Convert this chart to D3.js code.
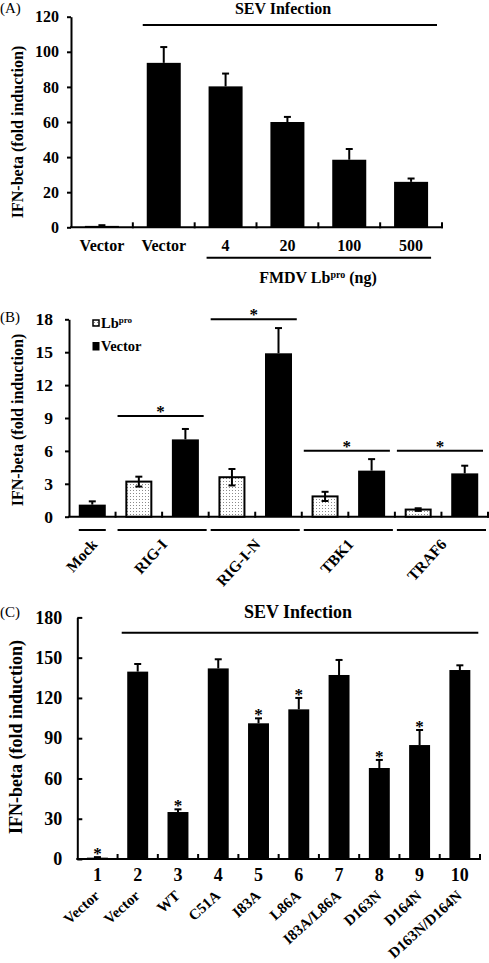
<!DOCTYPE html>
<html><head><meta charset="utf-8">
<script src="https://cdn.jsdelivr.net/npm/d3@7"></script>
<style>body{margin:0;background:#fff}svg{display:block}text{font-family:"Liberation Serif","Times New Roman",serif;fill:#000}</style>
</head><body>
<script>
// ---------- Data ----------
// Panel A
const catsA = ["Vector","Vector","4","20","100","500"];
const valsA = [0.8, 93.7, 80.3, 60.0, 38.5, 25.9];
const errA  = [0.4, 9.0, 7.3, 2.9, 6.1, 1.9];
const ticksA = [0,20,40,60,80,100,120];
// Panel B
const groupsB = ["Mock","RIG-I","RIG-I-N","TBK1","TRAF6"];
const groupOfB = [0,1,1,2,2,3,3,4,4];
const seriesB = ["Vector","Lb","Vector","Lb","Vector","Lb","Vector","Lb","Vector"];
const valsB = [1.1, 3.2, 7.05, 3.6, 14.9, 1.85, 4.2, 0.65, 3.95];
const errB  = [0.3, 0.45, 0.95, 0.75, 2.3, 0.42, 1.05, 0.12, 0.7];
const sigB = [1,2,3,4];
const ticksB = [0,3,6,9,12,15,18];
// Panel C
const numsC = ["1","2","3","4","5","6","7","8","9","10"];
const namesC = ["Vector","Vector","WT","C51A","I83A","L86A","I83A/L86A","D163N","D164N","D163N/D164N"];
const valsC = [1.0, 139.6, 35.0, 142.0, 101.1, 111.5, 137.1, 67.8, 84.9, 140.8];
const errC  = [0.4, 5.7, 2.0, 6.8, 3.7, 8.5, 11.2, 6.0, 11.2, 3.5];
const starC = [1,0,1,0,1,1,0,1,1,0];
const ticksC = [0,30,60,90,120,150,180];

const svg = d3.select("body").append("svg").attr("width",489).attr("height",963);
const defs = svg.append("defs");
const pat = defs.append("pattern").attr("id","dots").attr("width",3).attr("height",3).attr("patternUnits","userSpaceOnUse");
pat.append("rect").attr("width",3).attr("height",3).attr("fill","#fff");
pat.append("rect").attr("x",1).attr("y",1).attr("width",1).attr("height",1).attr("fill","#8a8a8a");

function line(g,x1,y1,x2,y2,w){g.append("line").attr("x1",x1).attr("y1",y1).attr("x2",x2).attr("y2",y2).attr("stroke","#000").attr("stroke-width",w||2);}

function panel(o){
  const g = svg.append("g");
  const x = d3.scaleBand().domain(d3.range(o.vals.length)).range([o.x0,o.x1]).paddingInner(o.pad).paddingOuter(o.pad/2);
  const y = d3.scaleLinear().domain([0,o.ymax]).range([o.yb,o.yt]);
  const step = x.step();
  const ax = d3.axisLeft(y).tickValues(o.ticks).tickSizeInner(o.tk).tickSizeOuter(0).tickPadding(o.tp);
  const ag = g.append("g").attr("transform",`translate(${o.x0},0)`).call(ax);
  ag.select(".domain").attr("stroke-width",2);
  ag.selectAll(".tick line").attr("stroke-width",2);
  ag.selectAll(".tick text").attr("font-size",o.fs).attr("font-weight","bold").attr("font-family","Liberation Serif");
  line(g,o.x0-1,y(0),o.x1+1,y(0),2);
  for(let i=1;i<=o.vals.length;i++){ const xx=o.x0+i*step; line(g,xx,y(0)-5,xx,y(0)+1,2); }
  o.vals.forEach((v,i)=>{
    const lb = o.series && o.series[i]==="Lb";
    const bx = x(i), bw = x.bandwidth(), cx = bx+bw/2;
    const top = y(v+o.err[i]);
    if(!lb){
      line(g,cx,y(v),cx,top,2);
      line(g,cx-3.5,top,cx+3.5,top,2);
      g.append("rect").attr("x",bx).attr("y",y(v)).attr("width",bw).attr("height",y(0)-y(v)).attr("fill","#000");
    } else {
      g.append("rect").attr("x",bx+1).attr("y",y(v)).attr("width",bw-2).attr("height",y(0)-y(v)).attr("fill","url(#dots)").attr("stroke","#000").attr("stroke-width",2);
      const bot = y(v-o.err[i]);
      line(g,cx,bot,cx,top,2);
      line(g,cx-3.5,top,cx+3.5,top,2);
      line(g,cx-3.5,bot,cx+3.5,bot,2);
    }
  });
  g.append("text").attr("transform",`translate(${o.tx},${o.ty}) rotate(-90)`).attr("text-anchor","middle").attr("dy","0.35em")
    .attr("font-size",o.tfs).attr("font-weight","bold").text("IFN-beta (fold induction)");
  return {g,x,y,step};
}
function star(g,x,y,fs){ g.append("text").attr("x",x).attr("y",y).attr("text-anchor","middle").attr("font-size",fs||17).attr("font-weight","bold").text("*"); }

// ---------- Panel A ----------
const A = panel({vals:valsA,err:errA,x0:71,x1:442,pad:0.45,ymax:120,yb:227.3,yt:16.7,ticks:ticksA,tk:4,tp:8,fs:16,tx:17,ty:132,tfs:16});
svg.append("text").attr("x",0).attr("y",13).attr("font-size",15).text("(A)");
catsA.forEach((c,i)=>{
  A.g.append("text").attr("x",A.x(i)+A.x.bandwidth()/2).attr("y",250.5).attr("text-anchor","middle").attr("font-size",16).attr("font-weight","bold").text(c);
});
line(A.g,A.x(1)-4,25,437,25,2);
A.g.append("text").attr("x",283).attr("y",13.5).attr("text-anchor","middle").attr("font-size",16).attr("font-weight","bold").text("SEV Infection");
line(A.g,A.x(2)-2,257.7,A.x(5)+A.x.bandwidth()+3,257.7,2);
{
  const t = A.g.append("text").attr("x",318).attr("y",283).attr("text-anchor","middle").attr("font-size",16).attr("font-weight","bold");
  t.append("tspan").text("FMDV Lb");
  t.append("tspan").attr("dy",-5).attr("font-size",10).text("pro");
  t.append("tspan").attr("dy",5).text(" (ng)");
}

// ---------- Panel B ----------
const B = panel({vals:valsB,err:errB,series:seriesB,x0:69,x1:488,pad:0.42,ymax:18,yb:516.7,yt:319.3,ticks:ticksB,tk:4,tp:12,fs:17.5,tx:17,ty:420,tfs:16});
svg.append("text").attr("x",0).attr("y",322).attr("font-size",15).text("(B)");
groupsB.forEach((gname,gi)=>{
  const idx = d3.range(valsB.length).filter(i=>groupOfB[i]===gi);
  const x1 = idx.length>1 ? 69+idx[0]*B.step+2 : B.x(idx[0]);
  const x2 = idx.length>1 ? 69+(idx[idx.length-1]+1)*B.step-2 : B.x(idx[0])+B.x.bandwidth();
  line(B.g,x1,530,x2,530,2);
  const cx = (x1+x2)/2;
  B.g.append("text").attr("transform",`translate(${cx+6},${545}) rotate(-48)`).attr("text-anchor","end").attr("font-size",15.5).attr("font-weight","bold").text(gname);
});
const sigY = [416,319.3,450.7,450.7];
sigB.forEach((gi,k)=>{
  const idx = d3.range(valsB.length).filter(i=>groupOfB[i]===gi);
  const x1 = 69+idx[0]*B.step+2, x2 = 69+(idx[1]+1)*B.step-5;
  line(B.g,x1,sigY[k],x2,sigY[k],2);
  star(B.g,(x1+x2)/2,sigY[k]+1);
});
{
  const lg = B.g.append("g");
  lg.append("rect").attr("x",93).attr("y",320).attr("width",6).attr("height",6).attr("fill","url(#dots)").attr("stroke","#000").attr("stroke-width",1.5);
  const t = lg.append("text").attr("x",101).attr("y",327.5).attr("font-size",14.5).attr("font-weight","bold");
  t.append("tspan").text("Lb");
  t.append("tspan").attr("dy",-5).attr("font-size",9).text("pro");
  lg.append("rect").attr("x",92.5).attr("y",342).attr("width",7).attr("height",8.5).attr("fill","#000");
  lg.append("text").attr("x",101).attr("y",350.5).attr("font-size",14.5).attr("font-weight","bold").text("Vector");
}

// ---------- Panel C ----------
const C = panel({vals:valsC,err:errC,x0:77.3,x1:480,pad:0.48,ymax:180,yb:859,yt:617.4,ticks:ticksC,tk:-5,tp:15,fs:18,tx:16,ty:737,tfs:18});
svg.append("text").attr("x",0).attr("y",617).attr("font-size",15).text("(C)");
line(C.g,121.7,632.7,478.3,632.7,2);
C.g.append("text").attr("x",298).attr("y",618).attr("text-anchor","middle").attr("font-size",18).attr("font-weight","bold").text("SEV Infection");
numsC.forEach((n,i)=>{
  const cx = C.x(i)+C.x.bandwidth()/2;
  C.g.append("text").attr("x",cx).attr("y",880.5).attr("text-anchor","middle").attr("font-size",18).attr("font-weight","bold").text(n);
  C.g.append("text").attr("transform",`translate(${cx+3},${897}) rotate(-42)`).attr("text-anchor","end").attr("font-size",15).attr("font-weight","bold").text(namesC[i]);
  if(starC[i]) star(C.g,cx,C.y(valsC[i]+errC[i])+2);
});
</script>
</body></html>
